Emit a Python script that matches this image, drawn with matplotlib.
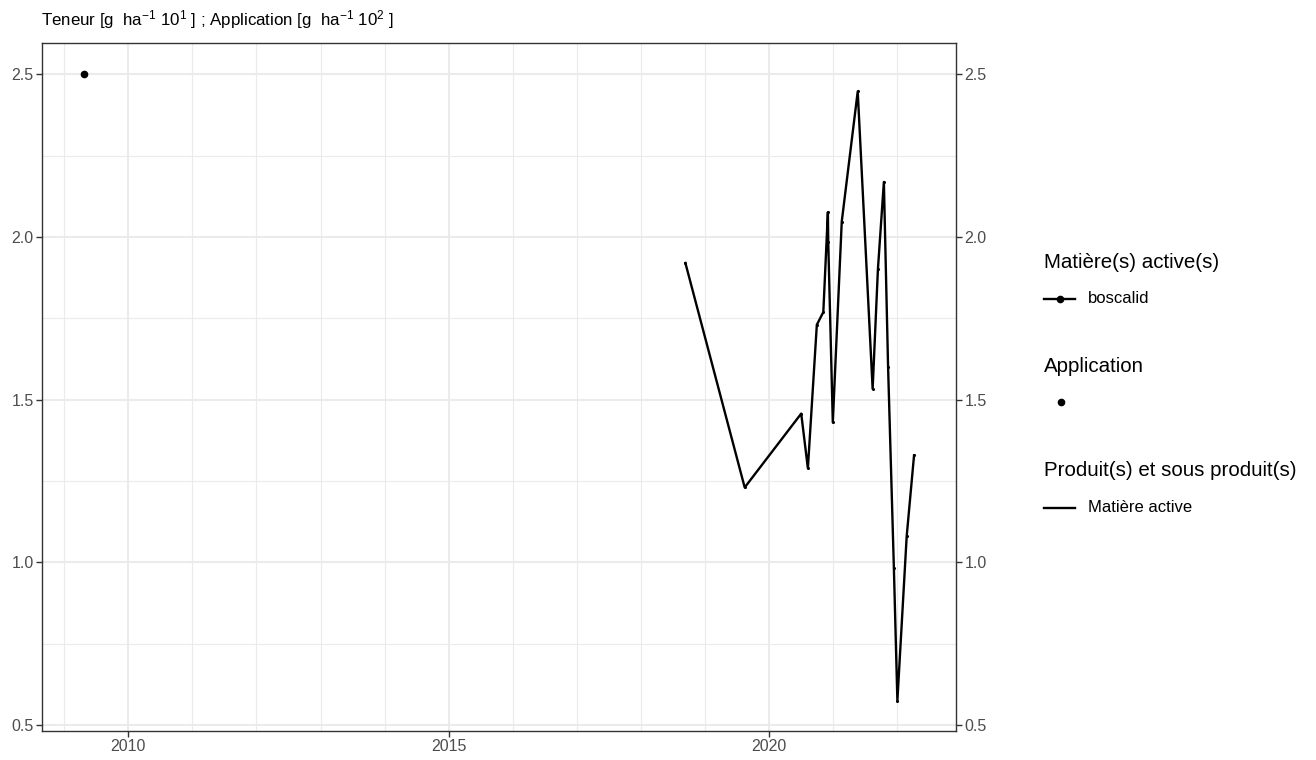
import numpy as np
import pandas as pd
import matplotlib
matplotlib.use('Agg')
import matplotlib.pyplot as plt
import matplotlib.dates as mdates
from matplotlib.lines import Line2D

plt.rcParams['font.family'] = ['Liberation Sans', 'DejaVu Sans']
plt.rcParams['mathtext.fontset'] = 'custom'
plt.rcParams['mathtext.rm'] = 'Liberation Sans'
plt.rcParams['mathtext.it'] = 'Liberation Sans:italic'

# concentration series (boscalid, matiere active)
teneur_dates = ['2018-09-11', '2019-08-15', '2020-07-02', '2020-08-09', '2020-09-29',
                '2020-11-05', '2020-12-01', '2020-12-03', '2020-12-29', '2021-02-18',
                '2021-05-20', '2021-08-13', '2021-09-12', '2021-10-16', '2021-11-09',
                '2021-12-12', '2022-01-01', '2022-02-23', '2022-04-06']
teneur_values = [1.92, 1.23, 1.457, 1.289, 1.73,
                 1.769, 2.076, 1.985, 1.43, 2.047,
                 2.447, 1.533, 1.90, 2.169, 1.60,
                 0.983, 0.575, 1.08, 1.329]

# application
application_dates = ['2009-04-24']
application_values = [2.5]

x_limits = ['2008-08-28', '2022-12-01']
y_limits = (0.4815, 2.596)
y_ticks = [0.5, 1.0, 1.5, 2.0, 2.5]

t_dates = pd.to_datetime(teneur_dates)
a_dates = pd.to_datetime(application_dates)

fig = plt.figure(figsize=(13.16, 7.6), dpi=100)
ax = fig.add_axes([42 / 1316, 1 - 731 / 760, (956 - 42) / 1316, (731 - 43) / 760])

grid_col = '#EBEBEB'
ax.set_axisbelow(True)
ax.grid(True, which='major', color=grid_col, linewidth=1.5)
ax.grid(True, which='minor', color=grid_col, linewidth=0.8)

ax.plot(t_dates, teneur_values, color='black', linewidth=1.7,
        marker='o', markersize=1.2, zorder=3)
ax.plot(a_dates, application_values, linestyle='none', marker='o',
        color='black', markersize=4.5, zorder=3)

ax.set_xlim(pd.to_datetime(x_limits[0]), pd.to_datetime(x_limits[1]))
ax.set_ylim(*y_limits)
ax.set_yticks(y_ticks)
ax.set_yticks([0.75, 1.25, 1.75, 2.25], minor=True)
ax.yaxis.set_major_formatter(plt.FormatStrFormatter('%.1f'))
ax.xaxis.set_major_locator(mdates.YearLocator(5))
ax.xaxis.set_minor_locator(mdates.YearLocator(1))
ax.xaxis.set_major_formatter(mdates.DateFormatter('%Y'))

for sp in ax.spines.values():
    sp.set_color('#333333')
    sp.set_linewidth(1.0)
ax.tick_params(which='major', length=4, width=1.0, color='#333333',
               labelcolor='#4D4D4D', labelsize=11.5, pad=2)
ax.tick_params(which='minor', length=0)

ax2 = ax.twinx()
ax2.set_ylim(*y_limits)
ax2.set_yticks(y_ticks)
ax2.yaxis.set_major_formatter(plt.FormatStrFormatter('%.1f'))
ax2.tick_params(which='major', length=4, width=1.0, color='#333333',
                labelcolor='#4D4D4D', labelsize=11.5, pad=2)
for sp in ax2.spines.values():
    sp.set_visible(False)

fig.text(41 / 1316, 1 - 20 / 760,
         r'Teneur [g  ha$^{-1}$ 10$^{1}$ ] ; Application [g  ha$^{-1}$ 10$^{2}$ ]',
         fontsize=12.2, ha='left', va='center', color='black')

# legends drawn by hand
def fx(px):
    return px / 1316

def fy(py):
    return 1 - py / 760

title_size = 14.8
label_size = 12
fig.text(fx(1044), fy(262), 'Matière(s) active(s)', fontsize=title_size, va='center')
fig.add_artist(Line2D([fx(1044), fx(1075)], [fy(299), fy(299)], color='black',
                      linewidth=1.7, transform=fig.transFigure))
fig.add_artist(Line2D([fx(1059.5)], [fy(299)], color='black', marker='o',
                      markersize=4.5, transform=fig.transFigure))
fig.text(fx(1088), fy(299), 'boscalid', fontsize=label_size, va='center')

fig.text(fx(1044), fy(366), 'Application', fontsize=title_size, va='center')
fig.add_artist(Line2D([fx(1061)], [fy(402)], color='black', marker='o',
                      markersize=4.5, transform=fig.transFigure))

fig.text(fx(1044), fy(470), 'Produit(s) et sous produit(s)', fontsize=title_size, va='center')
fig.add_artist(Line2D([fx(1044), fx(1075)], [fy(508), fy(508)], color='black',
                      linewidth=1.7, transform=fig.transFigure))
fig.text(fx(1088), fy(508), 'Matière active', fontsize=label_size, va='center')

fig.savefig('out.png', dpi=100)
